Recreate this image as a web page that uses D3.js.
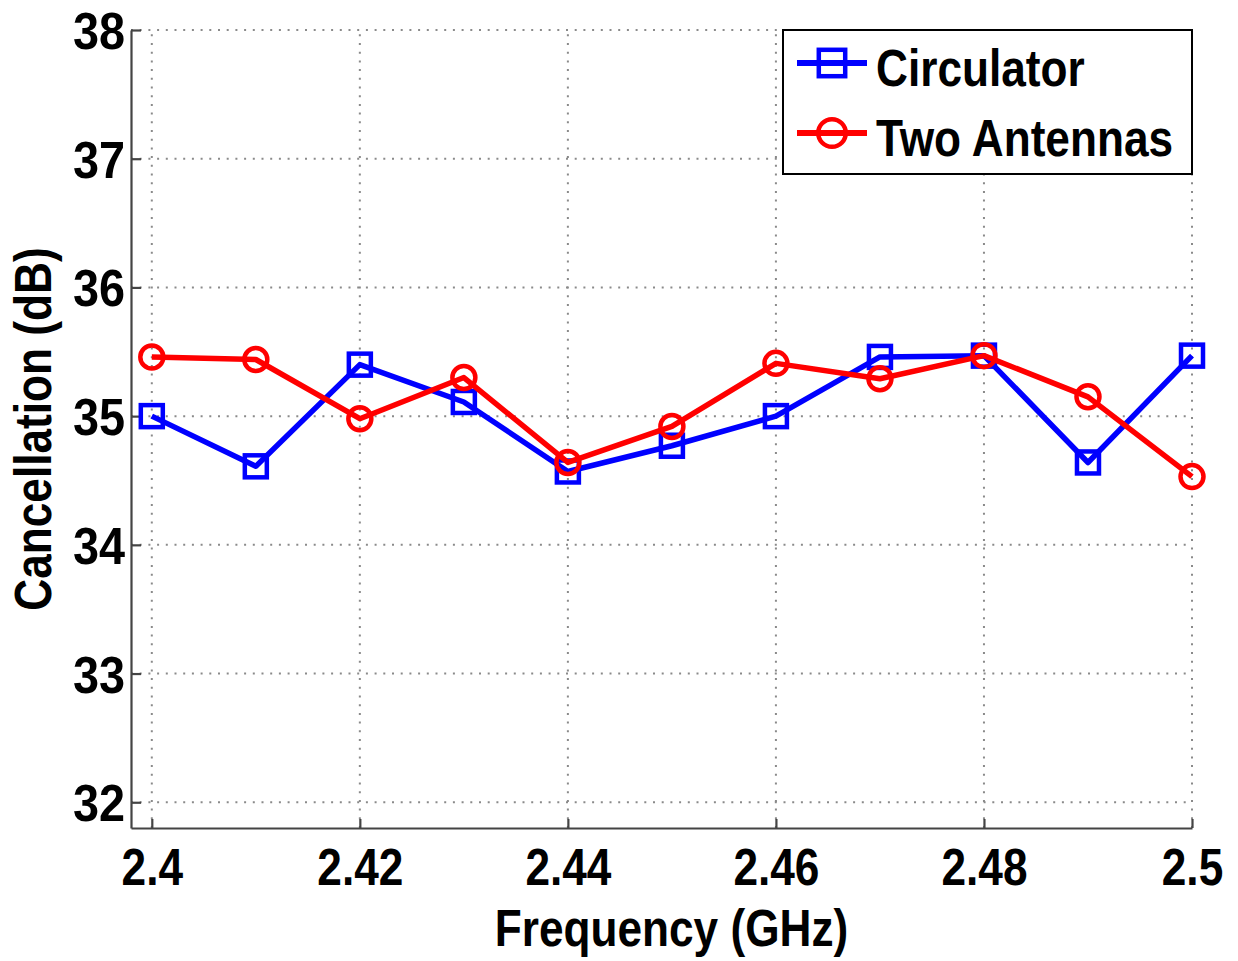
<!DOCTYPE html>
<html>
<head>
<meta charset="utf-8">
<script src="https://cdn.jsdelivr.net/npm/d3@7"></script>
<style>
  html, body { margin: 0; padding: 0; background: #fff; }
  svg { display: block; }
  text { font-family: "Liberation Sans", Arial, Helvetica, sans-serif; font-weight: bold; fill: #000; }
</style>
</head>
<body>
<svg id="chart" width="1238" height="961"></svg>
<script>
// Frequency points (GHz)
const frequencies = [2.40, 2.41, 2.42, 2.43, 2.44, 2.45, 2.46, 2.47, 2.48, 2.49, 2.50];
// Cancellation (dB) per configuration
const circulator   = [35.00, 34.61, 35.40, 35.11, 34.57, 34.77, 35.00, 35.46, 35.47, 34.64, 35.47];
const twoAntennas  = [35.46, 35.44, 34.98, 35.30, 34.64, 34.92, 35.41, 35.29, 35.47, 35.15, 34.53];
const seriesNames  = ["Circulator", "Two Antennas"];
const xTicks = [2.40, 2.42, 2.44, 2.46, 2.48, 2.50];
const xTickLabels = ["2.4", "2.42", "2.44", "2.46", "2.48", "2.5"];
const yTicks = [32, 33, 34, 35, 36, 37, 38];
const xTitle = "Frequency (GHz)";
const yTitle = "Cancellation (dB)";

const svg = d3.select("#chart");
const pL = 131, pR = 1192, pT = 30, pB = 828;
const FS = 52, SQ = 0.85; // font size and horizontal condensing

const x = d3.scaleLinear().domain([2.398, 2.5]).range([pL, pR]);
const y = d3.scaleLinear().domain([31.8, 38]).range([pB, pT]);

// dotted grid
const grid = svg.append("g").attr("stroke", "#8a8a8a").attr("stroke-width", 2)
  .attr("stroke-dasharray", "2,6.7").attr("fill", "none");
grid.selectAll("line.v").data(xTicks).join("line").attr("class", "v")
  .attr("x1", d => x(d)).attr("x2", d => x(d)).attr("y1", pB).attr("y2", pT);
grid.selectAll("line.h").data(yTicks).join("line").attr("class", "h")
  .attr("x1", pL).attr("x2", pR).attr("y1", d => y(d)).attr("y2", d => y(d));

// axes
const xAxis = svg.append("g").attr("transform", `translate(0,${pB})`)
  .call(d3.axisBottom(x).tickValues(xTicks).tickFormat((d, i) => xTickLabels[i])
    .tickSizeInner(-9).tickSizeOuter(0));
const yAxis = svg.append("g").attr("transform", `translate(${pL},0)`)
  .call(d3.axisLeft(y).tickValues(yTicks).tickFormat(d3.format("d"))
    .tickSizeInner(-10).tickSizeOuter(0));

[xAxis, yAxis].forEach(a => {
  a.select(".domain").attr("stroke", "#444").attr("stroke-width", 2.2);
  a.selectAll(".tick line").attr("stroke", "#444").attr("stroke-width", 2.2);
  a.selectAll(".tick text").attr("font-size", FS).attr("font-family", null).attr("fill", "#000");
});
xAxis.selectAll(".tick text").attr("y", 57).attr("dy", 0)
  .attr("transform", `scale(${SQ},1)`);
yAxis.selectAll(".tick text").attr("x", 0).attr("dy", "0.355em")
  .attr("transform", `translate(-6,0) scale(0.9,1)`);

// axis titles
svg.append("text").attr("text-anchor", "middle").attr("font-size", FS)
  .attr("transform", `translate(${(pL + pR) / 2 + 10},946) scale(${SQ},1)`)
  .text(xTitle);
svg.append("text").attr("text-anchor", "middle").attr("font-size", FS)
  .attr("transform", `translate(51,${(pT + pB) / 2}) rotate(-90) scale(${SQ},1)`)
  .text(yTitle);

// series
const colors = ["#0000ff", "#ff0000"];
const allSeries = [circulator, twoAntennas];
const line = d3.line().x((d, i) => x(frequencies[i])).y(d => y(d));
const SQS = 22, CR = 11.5;

function marker(g, kind, color, cx, cy, scale = 1) {
  if (kind === 0) {
    g.append("rect").attr("x", cx - SQS * scale / 2).attr("y", cy - SQS * scale / 2)
      .attr("width", SQS * scale).attr("height", SQS * scale)
      .attr("fill", "none").attr("stroke", color).attr("stroke-width", 4.5);
  } else {
    g.append("circle").attr("cx", cx).attr("cy", cy).attr("r", CR * scale)
      .attr("fill", "none").attr("stroke", color).attr("stroke-width", 4.5);
  }
}

allSeries.forEach((vals, k) => {
  const g = svg.append("g");
  g.append("path").datum(vals).attr("d", line).attr("fill", "none")
    .attr("stroke", colors[k]).attr("stroke-width", 5.5).attr("stroke-linejoin", "round");
  vals.forEach((v, i) => marker(g, k, colors[k], x(frequencies[i]), y(v)));
});

// legend
const lg = svg.append("g");
lg.append("rect").attr("x", 783).attr("y", pT).attr("width", pR - 783).attr("height", 174 - pT)
  .attr("fill", "#fff").attr("stroke", "#000").attr("stroke-width", 2);
const rowsY = [63, 133];
seriesNames.forEach((name, k) => {
  const cy = rowsY[k];
  lg.append("line").attr("x1", 797).attr("x2", 867).attr("y1", cy).attr("y2", cy)
    .attr("stroke", colors[k]).attr("stroke-width", 6);
  marker(lg, k, colors[k], 832, cy, 1.2);
  lg.append("text").attr("font-size", FS)
    .attr("transform", `translate(876,${cy + 23}) scale(${SQ},1)`).text(name);
});
</script>
</body>
</html>
